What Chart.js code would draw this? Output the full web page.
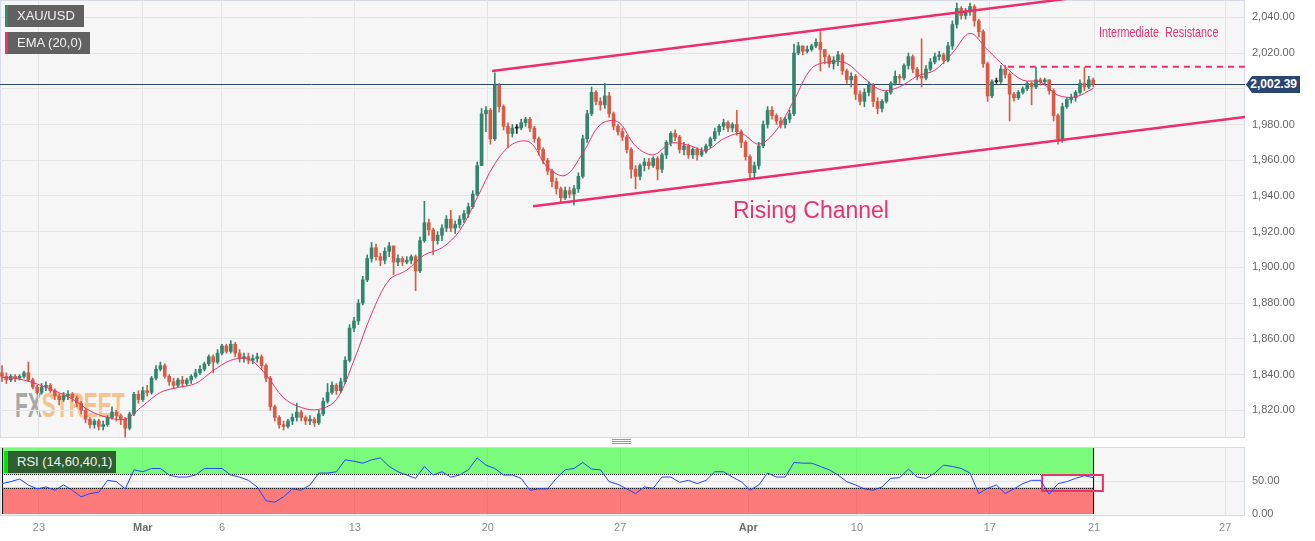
<!DOCTYPE html>
<html>
<head>
<meta charset="utf-8">
<title>XAU/USD 4H</title>
<script src="https://cdn.jsdelivr.net/npm/chart.js@4.4.1/dist/chart.umd.min.js"></script>
<style>
  body { margin: 0; background: #fff; font-family: 'Liberation Sans', Arial, sans-serif; }
  #wrap { position: relative; width: 1315px; height: 541px; overflow: hidden; }
  .pane { position: absolute; background: #f6f6f6; border: 1px solid #d6dbe7; box-sizing: border-box; }
  canvas { position: absolute; left: 0; }
  .tag { position: absolute; color: #f2f2f2; font-size: 13px; height: 22px; line-height: 22px; padding-left: 9px; box-sizing: border-box; z-index: 3; }
  .note { position: absolute; color: #e8336e; white-space: nowrap; z-index: 3; line-height: 1; }
  .grip { position: absolute; left: 612px; width: 19px; height: 1px; background: #9a9a9a; }
</style>
</head>
<body>
<div id="wrap">
  <div class="pane" style="left:0;top:0;width:1245px;height:438px"></div>
  <div style="position:absolute;left:15px;top:387px;font-size:35px;font-weight:bold;line-height:35px;transform:scaleX(0.6);transform-origin:left;white-space:nowrap;opacity:0.75">
    <span style="color:#8f8f8f">FX</span><span style="color:#f2b46a">STREET</span>
  </div>
  <canvas id="priceChart" width="1315" height="438" style="top:0"></canvas>

  <div class="grip" style="top:439px"></div>
  <div class="grip" style="top:441px"></div>
  <div class="grip" style="top:443px"></div>

  <div class="pane" style="left:0;top:447px;width:1245px;height:69px"></div>
  <canvas id="rsiChart" width="1315" height="96" style="top:445px"></canvas>

  <div class="tag" style="left:5px;top:5px;width:79px;background:rgba(88,88,88,0.95);border-left:3px solid #2f8a70">XAU/USD</div>
  <div class="tag" style="left:5px;top:32px;width:85px;background:rgba(88,88,88,0.95);border-left:3px solid #e8336e">EMA (20,0)</div>
  <div class="tag" style="left:4px;top:451px;width:112px;height:22px;background:#2f5f30;border-left:4px solid #00e600">RSI (14,60,40,1)</div>

  <div class="note" style="left:733px;top:199px;font-size:23px">Rising Channel</div>
  <div class="note" style="left:1099px;top:24px;font-size:15px;transform:scaleX(0.72);transform-origin:left">Intermediate&nbsp; Resistance</div>

  <div style="position:absolute;left:1246px;top:76px;width:54px;height:17px;background:#2a4670;clip-path:polygon(0 50%,6px 0,100% 0,100% 100%,6px 100%);color:#fff;font-size:12px;font-weight:bold;line-height:17px;text-align:right;padding-right:3px;box-sizing:border-box;z-index:3">2,002.39</div>
</div>

<script>
// 4h XAU/USD candles (open = previous close)
var firstOpen = 1841;
var closes = [
  1839, 1837, 1839, 1838, 1839, 1841, 1837, 1833, 1830, 1833,
  1834, 1831, 1828, 1826, 1828, 1829, 1827, 1824, 1820, 1815,
  1812, 1814, 1811, 1812, 1816, 1819, 1817, 1815, 1810, 1818,
  1829, 1826, 1831, 1830, 1838, 1843, 1845, 1839, 1836, 1834,
  1837, 1835, 1837, 1839, 1841, 1843, 1846, 1850, 1847, 1852,
  1856, 1853, 1857, 1852, 1849, 1850, 1848, 1849, 1850, 1845,
  1838, 1822, 1816, 1812, 1811, 1814, 1816, 1819, 1816, 1814,
  1815, 1813, 1818, 1825, 1830, 1834, 1831, 1836, 1848, 1866,
  1870, 1880, 1893, 1905, 1911, 1906, 1904, 1909, 1912, 1903,
  1905, 1903, 1904, 1906, 1898, 1915, 1925, 1921, 1915, 1918,
  1922, 1927, 1922, 1924, 1927, 1930, 1934, 1941, 1957, 1986,
  1988, 1972, 2002, 1990, 1979, 1975, 1978, 1978, 1981, 1983,
  1978, 1972, 1966, 1960, 1954, 1948, 1944, 1939, 1943, 1941,
  1944, 1951, 1972, 1986, 1998, 1993, 1991, 1996, 1986, 1979,
  1976, 1973, 1966, 1955, 1951, 1957, 1959, 1957, 1961, 1955,
  1963, 1970, 1975, 1973, 1966, 1968, 1963, 1966, 1963, 1965,
  1968, 1972, 1976, 1979, 1981, 1978, 1980, 1976, 1970, 1962,
  1953, 1957, 1968, 1980, 1988, 1985, 1982, 1980, 1983, 1986,
  2020, 2024, 2021, 2022, 2024, 2026, 2022, 2018, 2014, 2016,
  2019, 2010, 2005, 2007, 1997, 1993, 1998, 2002, 1993, 1989,
  1993, 1998, 2003, 2007, 2006, 2013, 2018, 2011, 2007, 2006,
  2011, 2015, 2018, 2019, 2016, 2024, 2036, 2045, 2041, 2043,
  2046, 2038, 2032, 2014, 1996, 2004, 2004, 2011, 2008, 1997,
  1995, 1998, 2000, 2003, 2001, 2005, 2004, 2005, 1999, 1985,
  1972, 1990, 1994, 1995, 1998, 2003, 2001, 2005, 2002.39
];
var highs = [
  1845, 1841, 1840, 1840, 1840, 1842, 1847, 1838, 1834, 1835,
  1836, 1835, 1832, 1829, 1830, 1831, 1830, 1828, 1825, 1821,
  1816, 1815, 1815, 1814, 1817, 1822, 1820, 1818, 1816, 1819,
  1830, 1831, 1833, 1834, 1839, 1845, 1847, 1846, 1840, 1838,
  1838, 1839, 1838, 1840, 1843, 1845, 1847, 1851, 1851, 1854,
  1857, 1857, 1859, 1858, 1854, 1852, 1852, 1851, 1852, 1851,
  1846, 1839, 1823, 1817, 1814, 1815, 1818, 1824, 1820, 1817,
  1817, 1816, 1820, 1827, 1835, 1836, 1835, 1838, 1850, 1868,
  1872, 1882, 1895, 1907, 1914, 1913, 1908, 1911, 1914, 1912,
  1907, 1906, 1906, 1907, 1907, 1917, 1937, 1927, 1922, 1920,
  1924, 1929, 1932, 1926, 1929, 1932, 1936, 1943, 1959, 1989,
  1990, 1989, 2009, 2003, 1991, 1981, 1980, 1980, 1983, 1984,
  1984, 1979, 1973, 1967, 1961, 1955, 1950, 1945, 1945, 1945,
  1946, 1953, 1974, 1988, 2001, 1999, 1995, 2003, 1998, 1987,
  1980, 1978, 1974, 1967, 1957, 1958, 1961, 1961, 1962, 1962,
  1964, 1971, 1976, 1977, 1974, 1970, 1969, 1967, 1967, 1967,
  1969, 1973, 1978, 1980, 1983, 1982, 1981, 1988, 1977, 1971,
  1963, 1959, 1970, 1982, 1990, 1990, 1986, 1984, 1984, 1988,
  2025, 2026, 2024, 2024, 2025, 2028, 2032, 2022, 2019, 2018,
  2021, 2020, 2011, 2009, 2008, 1999, 2000, 2004, 2003, 1995,
  1994, 1999, 2004, 2010, 2008, 2014, 2020, 2019, 2012, 2028,
  2013, 2017, 2020, 2021, 2020, 2026, 2038, 2048, 2046, 2045,
  2048, 2047, 2039, 2033, 2015, 2005, 2006, 2013, 2013, 2009,
  1998, 1999, 2001, 2004, 2004, 2012, 2006, 2006, 2005, 2000,
  1986, 1992, 1995, 1997, 1999, 2005, 2012, 2007, 2006
];
var lows = [
  1836, 1835, 1836, 1836, 1837, 1838, 1836, 1832, 1829, 1829,
  1831, 1830, 1826, 1823, 1825, 1826, 1825, 1822, 1818, 1813,
  1810, 1810, 1809, 1809, 1811, 1815, 1814, 1812, 1805, 1809,
  1817, 1824, 1825, 1828, 1829, 1837, 1842, 1838, 1834, 1832,
  1833, 1833, 1834, 1835, 1838, 1840, 1842, 1845, 1841, 1846,
  1851, 1852, 1852, 1850, 1847, 1847, 1846, 1846, 1847, 1843,
  1836, 1820, 1814, 1810, 1809, 1810, 1812, 1814, 1814, 1812,
  1812, 1811, 1812, 1817, 1824, 1829, 1829, 1830, 1835, 1847,
  1864, 1868, 1879, 1892, 1903, 1904, 1901, 1902, 1906, 1896,
  1901, 1901, 1902, 1902, 1887, 1897, 1914, 1918, 1907, 1913,
  1915, 1920, 1920, 1919, 1922, 1925, 1928, 1933, 1940, 1957,
  1976, 1969, 1971, 1987, 1977, 1967, 1973, 1975, 1977, 1979,
  1976, 1970, 1963, 1958, 1952, 1945, 1941, 1936, 1938, 1939,
  1935, 1942, 1950, 1970, 1985, 1991, 1988, 1989, 1984, 1977,
  1974, 1971, 1964, 1950, 1944, 1949, 1954, 1955, 1956, 1949,
  1953, 1961, 1968, 1971, 1964, 1963, 1961, 1961, 1960, 1962,
  1964, 1967, 1971, 1974, 1977, 1976, 1976, 1974, 1967, 1960,
  1950, 1950, 1955, 1967, 1978, 1983, 1980, 1978, 1978, 1981,
  1985, 2019, 2019, 2020, 2021, 2023, 2010, 2014, 2012, 2011,
  2013, 2008, 2003, 2001, 1994, 1991, 1990, 1996, 1990, 1986,
  1987, 1992, 1997, 2002, 2003, 2005, 2011, 2009, 2005, 2001,
  2005, 2010, 2014, 2016, 2014, 2015, 2022, 2034, 2039, 2039,
  2041, 2035, 2029, 2012, 1993, 1995, 2003, 2003, 2006, 1982,
  1993, 1994, 1997, 1999, 1991, 2000, 2002, 2002, 1997, 1982,
  1969, 1970, 1989, 1992, 1993, 1997, 1999, 2000, 2001
];

// EMA(20) read every 4th candle, RSI(14) read every 2nd candle
var emaStep = 4;
var ema20 = [
  1838.4, 1837.5, 1834.7, 1830.9, 1826.3, 1819.7, 1816.0, 1815.1, 1822.5, 1830.0,
  1832.8, 1835.0, 1842.2, 1848.0, 1848.7, 1840.0, 1827.0, 1821.6, 1820.5, 1826.0,
  1848.0, 1874.0, 1893.0, 1898.5, 1907.0, 1911.0, 1920.5, 1939.0, 1958.0, 1969.0,
  1970.0, 1956.0, 1951.5, 1964.0, 1980.0, 1981.5, 1968.0, 1963.0, 1969.5, 1968.4,
  1965.6, 1972.0, 1974.9, 1969.0, 1976.8, 1993.6, 2011.4, 2015.1, 2014.2, 2005.8,
  1999.2, 2001.1, 2007.1, 2010.4, 2020.0, 2031.0, 2021.7, 2012.3, 2004.8, 2003.9,
  1996.4, 1995.5, 2000.2
];
var rsiStep = 2;
var rsi14 = [
  46, 49, 53, 44, 38, 41, 36, 44, 36, 26,
  31, 33, 51, 49, 38, 67, 64, 69, 69, 59,
  56, 56, 59, 69, 69, 69, 59, 56, 51, 41,
  20, 18, 26, 38, 36, 44, 62, 62, 64, 82,
  80, 77, 82, 85, 72, 64, 59, 54, 72, 59,
  64, 56, 59, 67, 85, 74, 69, 59, 59, 54,
  36, 38, 38, 54, 67, 69, 78, 68, 67, 49,
  45, 38, 31, 41, 39, 56, 56, 48, 51, 46,
  51, 64, 64, 56, 49, 36, 44, 62, 56, 56,
  78, 77, 77, 72, 67, 59, 49, 44, 38, 36,
  41, 54, 55, 68, 56, 54, 62, 74, 72, 69,
  62, 31, 39, 44, 31, 38, 46, 51, 51, 30,
  46, 49, 54, 58, 55
];
var rsiHi = 60;
var rsiLo = 40;

// date ticks (position in candle units) and labels
var tickIdx = [8.4, 32.0, 50.0, 80.2, 110.4, 140.5, 169.6, 194.3, 224.5, 248.2, 278.0];
var tickLbl = ['23', 'Mar', '6', '13', '20', '27', 'Apr', '10', '17', '21', '27'];
var priceTicks = [1820, 1840, 1860, 1880, 1900, 1920, 1940, 1960, 1980, 2000, 2020, 2040];
var rsiTicks = [0, 50];

// drawn studies: channel, resistance, highlight box
var chanUpX = [111.4, 242.7], chanUpY = [2010.0, 2050.6];
var chanLoX = [120.7, 282.5], chanLoY = [1934.3, 1984.2];
var resistX = [228.6, 282.5], resistY = 2012.4;
var boxX = [236.4, 250.2], boxY = [34.8, 59.1];

var X_MIN = -0.45, X_MAX = 282.5;
var UP = '#33866e', DOWN = '#da5a44';

Chart.defaults.font.family = "'Liberation Sans', Arial, sans-serif";

var idx = closes.map(function (c, i) { return i; });
var opens = closes.map(function (c, i) { return i === 0 ? firstOpen : closes[i - 1]; });
var candleCol = idx.map(function (i) {
    if (closes[i] > opens[i]) return UP;
    if (closes[i] < opens[i]) return DOWN;
    return '#222';
});
var lastIdx = closes.length - 1;
var lastClose = closes[lastIdx];

function pts(xs, ys) {
    return xs.map(function (x, i) { return { x: x, y: ys[i] }; });
}

function xAxis(showLabels) {
    return {
        type: 'linear', min: X_MIN, max: X_MAX, bounds: 'data', offset: false,
        grid: { color: '#e4e4e4', drawTicks: false, offset: false },
        border: { display: false },
        afterBuildTicks: function (s) { s.ticks = tickIdx.map(function (v) { return { value: v }; }); },
        ticks: {
            display: showLabels, padding: 6, maxRotation: 0, autoSkip: false,
            color: function (c) { return (tickLbl[c.index] === 'Mar' || tickLbl[c.index] === 'Apr') ? '#6e6e6e' : '#8c8c8c'; },
            font: function (c) { return { size: 11, weight: (tickLbl[c.index] === 'Mar' || tickLbl[c.index] === 'Apr') ? 'bold' : 'normal' }; },
            callback: function (v, i) { return tickLbl[i]; }
        },
        afterFit: function (s) { s.height = showLabels ? 26 : 0; s.paddingLeft = 0; s.paddingRight = 0; }
    };
}

function fmt(v) {
    return v.toLocaleString('en-US', { minimumFractionDigits: 2, maximumFractionDigits: 2 });
}

// ---------- price panel ----------
new Chart(document.getElementById('priceChart'), {
    type: 'bar',
    data: {
        datasets: [
            {
                type: 'line', label: 'last', order: 6,
                data: pts([X_MIN, X_MAX], [lastClose, lastClose]),
                borderColor: '#2a4670', borderWidth: 1, pointRadius: 0
            },
            {
                label: 'wick', order: 5, grouped: false, barThickness: 1,
                data: idx.map(function (i) { return { x: i, y: [lows[i], highs[i]] }; }),
                backgroundColor: candleCol
            },
            {
                label: 'body', order: 4, grouped: false, barThickness: 3, minBarLength: 1,
                data: idx.map(function (i) { return { x: i, y: [opens[i], closes[i]] }; }),
                backgroundColor: candleCol
            },
            {
                type: 'line', label: 'EMA (20,0)', order: 3,
                data: ema20.map(function (v, k) { return { x: k * emaStep, y: v }; }),
                borderColor: '#e8336e', borderWidth: 1, pointRadius: 0, tension: 0.35
            },
            {
                type: 'line', label: 'channel top', order: 2,
                data: pts(chanUpX, chanUpY),
                borderColor: '#ec2f6c', borderWidth: 2.5, pointRadius: 0
            },
            {
                type: 'line', label: 'channel bottom', order: 2,
                data: pts(chanLoX, chanLoY),
                borderColor: '#ec2f6c', borderWidth: 2.5, pointRadius: 0
            },
            {
                type: 'line', label: 'resistance', order: 2,
                data: pts(resistX, [resistY, resistY]),
                borderColor: '#ec2f6c', borderWidth: 2, borderDash: [6, 5], pointRadius: 0
            }
        ]
    },
    options: {
        responsive: false, animation: false, devicePixelRatio: 1, events: [],
        layout: { padding: 0 },
        plugins: { legend: { display: false }, tooltip: { enabled: false } },
        scales: {
            x: xAxis(false),
            y: {
                type: 'linear', position: 'right', min: 1804.5, max: 2049.7, bounds: 'data',
                grid: { color: '#e4e4e4', drawTicks: false },
                border: { display: false },
                afterBuildTicks: function (s) { s.ticks = priceTicks.map(function (v) { return { value: v }; }); },
                ticks: { padding: 7, color: '#666', font: { size: 11 }, callback: fmt },
                afterFit: function (s) { s.width = 70; s.paddingTop = 0; s.paddingBottom = 0; }
            }
        }
    }
});

// ---------- RSI panel ----------
var rsiBands = {
    id: 'rsiBands',
    beforeDatasetsDraw: function (chart) {
        var ctx = chart.ctx, xs = chart.scales.x, ys = chart.scales.y;
        var x0 = xs.getPixelForValue(0), x1 = xs.getPixelForValue(lastIdx);
        var yTop = ys.getPixelForValue(100), yHi = ys.getPixelForValue(rsiHi);
        var yLo = ys.getPixelForValue(rsiLo), yBot = ys.getPixelForValue(0);
        ctx.save();
        ctx.fillStyle = 'rgba(0,255,0,0.5)';
        ctx.fillRect(x0, yTop, x1 - x0, yHi - yTop);
        ctx.fillStyle = 'rgba(255,0,0,0.5)';
        ctx.fillRect(x0, yLo, x1 - x0, yBot - yLo);
        ctx.strokeStyle = '#111';
        ctx.lineWidth = 1;
        ctx.beginPath();
        ctx.moveTo(Math.round(x0) + 0.5, yTop); ctx.lineTo(Math.round(x0) + 0.5, yBot);
        ctx.moveTo(Math.round(x1) + 0.5, yTop); ctx.lineTo(Math.round(x1) + 0.5, yBot);
        ctx.stroke();
        ctx.setLineDash([1, 1]);
        ctx.beginPath();
        ctx.moveTo(x0, Math.round(yHi) + 0.5); ctx.lineTo(x1, Math.round(yHi) + 0.5);
        ctx.moveTo(x0, Math.round(yLo) + 0.5); ctx.lineTo(x1, Math.round(yLo) + 0.5);
        ctx.stroke();
        ctx.restore();
    }
};

new Chart(document.getElementById('rsiChart'), {
    type: 'line',
    data: {
        datasets: [
            {
                label: 'RSI (14,60,40,1)',
                data: rsi14.map(function (v, k) { return { x: k * rsiStep, y: v }; }),
                borderColor: '#2346ff', borderWidth: 1, pointRadius: 0, tension: 0
            },
            {
                label: 'box',
                data: pts([boxX[0], boxX[1], boxX[1], boxX[0], boxX[0]], [boxY[1], boxY[1], boxY[0], boxY[0], boxY[1]]),
                borderColor: '#e8336e', borderWidth: 2, pointRadius: 0, tension: 0, clip: false
            }
        ]
    },
    options: {
        responsive: false, animation: false, devicePixelRatio: 1, events: [],
        layout: { padding: { top: 2, left: 0, right: 0, bottom: 0 } },
        plugins: { legend: { display: false }, tooltip: { enabled: false } },
        scales: {
            x: xAxis(true),
            y: {
                type: 'linear', position: 'right', min: -1.5, max: 101.5, bounds: 'data',
                grid: { color: function (c) { return c.tick && c.tick.value === 50 ? '#e4e4e4' : 'rgba(0,0,0,0)'; }, drawTicks: false },
                border: { display: false },
                afterBuildTicks: function (s) { s.ticks = rsiTicks.map(function (v) { return { value: v }; }); },
                ticks: { padding: 7, color: '#666', font: { size: 11 }, callback: fmt },
                afterFit: function (s) { s.width = 70; s.paddingTop = 0; s.paddingBottom = 0; }
            }
        }
    },
    plugins: [rsiBands]
});
</script>
</body>
</html>
